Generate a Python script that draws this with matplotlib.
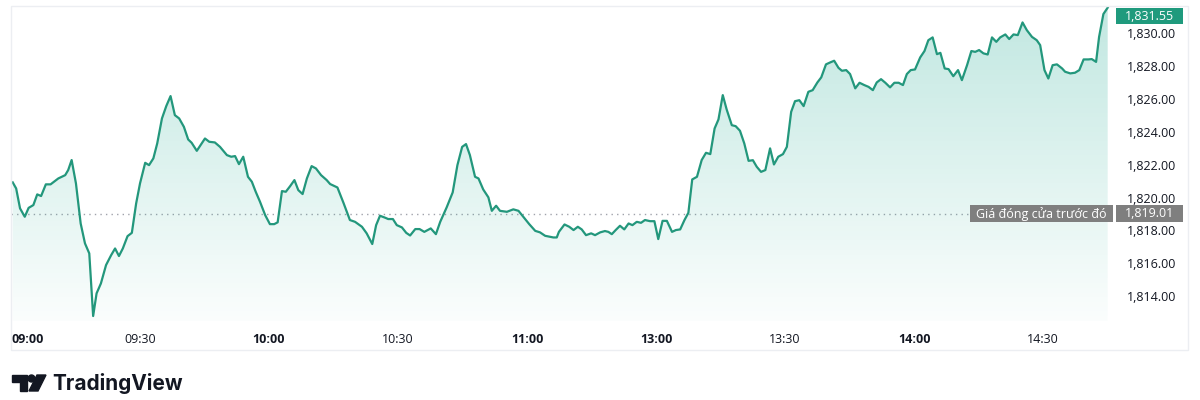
import numpy as np
import matplotlib.pyplot as plt
from matplotlib.patches import Polygon, Rectangle, Circle
from matplotlib.transforms import blended_transform_factory

plt.rcParams['font.family'] = ['Open Sans', 'DejaVu Sans']

# trading minutes since 09:00 (lunch break 11:30-13:00 removed)
minutes = [0.4, 1.2, 2.1, 3.2, 4.1, 5.2, 6.1, 7.0, 8.1, 9.2, 11.0, 12.6, 13.3, 14.1, 15.1, 16.2, 17.2, 18.2, 19.1, 19.9,
           20.9, 22.1, 23.3, 24.2, 25.1, 26.0, 27.1, 28.1, 29.1, 30.0, 31.2, 32.1, 33.1, 34.0, 35.1, 36.1, 37.1, 38.1, 39.1, 40.2,
           41.2, 42.0, 43.2, 45.1, 46.1, 47.4, 48.6, 50.2, 51.2, 52.1, 53.0, 54.0, 55.1, 56.0, 56.9, 57.9, 59.1, 60.2, 61.2, 62.0,
           63.0, 63.9, 64.9, 65.9, 66.8, 67.8, 68.8, 69.9, 70.9, 72.1, 73.4, 74.2, 75.9, 77.3, 78.8, 80.0, 81.6, 82.7, 84.0,
           84.9, 85.8, 87.0, 87.7, 88.8, 89.7, 90.9, 91.9, 92.8, 94.0, 95.0, 96.1, 97.6, 98.8, 99.8, 101.3, 102.7, 103.8, 104.9, 105.8,
           106.7, 107.9, 108.7, 109.8, 111.0, 111.8, 112.8, 113.7, 115.3, 116.8, 118.0, 119.1, 120.5, 121.9, 123.0, 124.2, 126.1, 126.9,
           127.4, 128.7, 129.8, 130.8, 131.8, 132.7, 133.7, 134.9, 135.8, 137.0, 138.1, 138.9, 139.7, 140.6, 141.6, 142.6, 143.6, 144.5,
           145.5, 146.5, 147.4, 148.6, 149.6, 150.5, 151.5, 152.5, 153.7, 154.6, 155.6, 156.6, 157.5, 158.4, 159.5, 160.6, 161.6, 162.6,
           163.6, 164.5, 165.5, 166.4, 167.6, 168.5, 169.5,
           170.5, 171.5, 172.5, 173.4, 174.4, 175.4, 176.5, 177.4, 178.4, 179.5, 180.4, 181.4, 182.3, 183.3, 184.3, 185.4, 186.4, 187.5,
           188.4, 189.5, 190.5, 191.4, 192.4, 193.2, 194.2, 195.1, 196.3, 197.3, 198.4, 199.4, 200.4, 201.3, 202.3, 203.3, 204.4, 205.4,
           206.4, 207.4, 208.3, 209.2, 210.2, 211.4, 212.4,
           213.3, 214.3, 215.3, 216.1, 217.1, 218.0, 219.1, 220.2, 221.1, 222.3, 223.3, 224.2, 225.1, 226.1, 227.1, 228.1, 229.1, 230.0,
           231.2, 232.1, 233.1, 234.1, 235.2, 236.2, 237.4, 238.5, 239.3, 240.3, 241.2, 242.2, 243.2, 244.4, 245.1, 246.3, 247.4, 248.4,
           249.4, 250.5, 251.3, 252.3, 253.0, 254.0, 255.0]
prices = [1820.92, 1820.55, 1819.34, 1818.83, 1819.37, 1819.54, 1820.19, 1820.09, 1820.80, 1820.80, 1821.16, 1821.36, 1821.67,
          1822.28, 1820.86, 1818.42, 1817.21, 1816.60, 1812.79, 1814.17, 1814.77, 1815.89, 1816.50, 1816.90, 1816.44, 1816.90,
          1817.65, 1817.85, 1819.64, 1820.86, 1822.11, 1821.97, 1822.38, 1823.29, 1824.81, 1825.56, 1826.17, 1825.01, 1824.81,
          1824.30, 1823.53,
          1823.33, 1822.84, 1823.59, 1823.39, 1823.35, 1823.08, 1822.58, 1822.48, 1822.52, 1822.03, 1822.48, 1821.26, 1820.96,
          1820.35, 1819.74, 1818.93, 1818.38, 1818.38, 1818.49, 1820.39, 1820.35, 1820.69, 1821.06, 1820.45, 1820.21, 1821.16,
          1821.91, 1821.77, 1821.36, 1821.06, 1820.82, 1820.61, 1819.68, 1818.63, 1818.52, 1818.22, 1817.82, 1817.17,
          1818.32, 1818.89, 1818.77, 1818.69, 1818.69, 1818.32, 1818.18, 1817.85, 1817.69, 1818.08, 1818.08, 1817.91, 1818.12,
          1817.77, 1818.52, 1819.40, 1820.31, 1821.97, 1823.08, 1823.25, 1822.58, 1821.26, 1821.16, 1820.49, 1820.01, 1819.19,
          1819.50, 1819.19, 1819.13, 1819.28, 1819.19, 1818.83, 1818.38, 1817.97, 1817.88, 1817.67, 1817.57, 1817.57,
          1817.91, 1818.36, 1818.22, 1818.02, 1818.22, 1818.06, 1817.71, 1817.82, 1817.71, 1817.88, 1817.96, 1817.91, 1817.77,
          1818.02, 1818.28, 1818.06, 1818.42, 1818.32, 1818.52, 1818.46, 1818.63, 1818.56, 1818.56, 1817.47, 1818.58, 1818.58,
          1817.91, 1818.02, 1818.06, 1818.63, 1819.07, 1821.10, 1821.26, 1822.28, 1822.72, 1822.64, 1824.20, 1824.75, 1826.23,
          1825.36, 1824.40, 1824.34, 1824.06,
          1823.29, 1822.23, 1822.27, 1821.87, 1821.56, 1821.67, 1822.99, 1822.01, 1822.48, 1822.64, 1823.08, 1825.21, 1825.86,
          1825.92, 1825.56, 1826.43, 1826.53, 1827.00, 1827.31, 1828.10, 1828.22, 1828.32, 1827.89, 1827.71, 1827.75, 1827.51,
          1826.64, 1826.98, 1826.84, 1826.73, 1826.53, 1827.00, 1827.20, 1826.98, 1826.70, 1826.98, 1826.98, 1826.84, 1827.51,
          1827.75, 1827.79, 1828.52, 1828.91,
          1829.57, 1829.74, 1828.72, 1828.80, 1827.85, 1827.81, 1827.38, 1827.75, 1827.14, 1828.05, 1828.91, 1828.86, 1828.97,
          1828.77, 1828.70, 1829.74, 1829.47, 1829.74, 1829.92, 1829.64, 1829.92, 1829.88, 1830.65, 1830.18, 1829.77, 1829.57,
          1829.27, 1827.75, 1827.24, 1828.05, 1828.10, 1827.85, 1827.65, 1827.55, 1827.59, 1827.75, 1828.40, 1828.40, 1828.42,
          1828.25, 1829.77, 1831.16, 1831.55]

prev_close = 1819.01
prev_close_label = 'Giá đóng cửa trước đó'
tick_minutes = [0, 30, 60, 90, 120, 150, 180, 210, 240]
tick_labels = ['09:00', '09:30', '10:00', '10:30', '11:00', '13:00', '13:30', '14:00', '14:30']
price_ticks = [1814, 1816, 1818, 1820, 1822, 1824, 1826, 1828, 1830]

line_color = '#23977c'
text_color = '#131722'
W, H = 1200, 400
ymin, ymax = 1812.5, 1831.65
xmin, xmax = 0, 256.7

fig = plt.figure(figsize=(12, 4), dpi=100)
ax = fig.add_axes([11 / W, 1 - 320.8 / H, (1115 - 11) / W, (320.8 - 6) / H])

x = np.array(minutes)
y = np.array(prices)
ax.plot(x, y, color=line_color, lw=1.6, zorder=3, solid_joinstyle='round')

verts = np.column_stack([np.r_[x[0], x, x[-1]], np.r_[ymin, y, ymin]])
poly = Polygon(verts, closed=True, facecolor='none', edgecolor='none')
ax.add_patch(poly)
grad = np.zeros((256, 1, 4))
grad[..., :3] = (0.13, 0.67, 0.58)
grad[..., 3] = np.linspace(0.28, 0.02, 256)[:, None]
im = ax.imshow(grad, extent=[xmin, xmax, ymin, ymax], origin='upper', aspect='auto', zorder=2)
im.set_clip_path(poly)

ax.axhline(prev_close, color='#a0a3ab', lw=1, ls=(0, (1, 3)), zorder=1.5)

ax.set_xlim(xmin, xmax)
ax.set_ylim(ymin, ymax)
ax.yaxis.tick_right()
ax.set_yticks(price_ticks, [f'{v:,.2f}' for v in price_ticks])
ax.tick_params(axis='y', length=0, pad=8.6, labelsize=9, labelcolor=text_color)
ax.set_xticks(tick_minutes, tick_labels)
ax.tick_params(axis='x', length=0, pad=9, labelsize=9, labelcolor=text_color)
for lab in ax.get_xticklabels():
    if lab.get_text().endswith(':00'):
        lab.set_fontweight('bold')
ax.get_xticklabels()[0].set_ha('left')
for s in ax.spines.values():
    s.set_visible(False)

# overlay in pixel coordinates for frame, price labels and logo
ov = fig.add_axes([0, 0, 1, 1])
ov.set_xlim(0, W)
ov.set_ylim(H, 0)
ov.axis('off')
ov.add_patch(Rectangle((11, 6), 1177, 344, facecolor='none', edgecolor='#eceef2', lw=1))

mix = blended_transform_factory(ov.transData, ax.transData)
ov.add_patch(Rectangle((970, prev_close - 0.52), 143, 1.04, transform=mix, facecolor='#7f7f7f', edgecolor='none', zorder=4))
ov.text(1041.5, prev_close, prev_close_label, transform=mix, color='white', fontsize=9, ha='center', va='center', zorder=5)
ov.add_patch(Rectangle((1116, prev_close - 0.52), 67, 1.04, transform=mix, facecolor='#7f7f7f', edgecolor='none', zorder=4))
ov.text(1149.5, prev_close, f'{prev_close:,.2f}', transform=mix, color='white', fontsize=9, ha='center', va='center', zorder=5)

ov.add_patch(Rectangle((1116, 8), 67, 16, facecolor='#1f9a7d', edgecolor='none', zorder=4))
ov.text(1149.5, 16, f'{prices[-1]:,.2f}', color='white', fontsize=9, ha='center', va='center', zorder=5)

ov.add_patch(Polygon([(12, 375), (27, 375), (27, 391), (20, 391), (20, 382), (12, 382)], closed=True, color=text_color))
ov.add_patch(Circle((31.5, 378.5), 3.5, color=text_color))
ov.add_patch(Polygon([(37, 375), (46, 375), (38, 391), (29, 391)], closed=True, color=text_color))
ov.text(52, 383, 'TradingView', fontsize=15, fontweight='bold', family=['Inter', 'DejaVu Sans'],
        color=text_color, ha='left', va='center')

fig.savefig('out.png', dpi=100)
